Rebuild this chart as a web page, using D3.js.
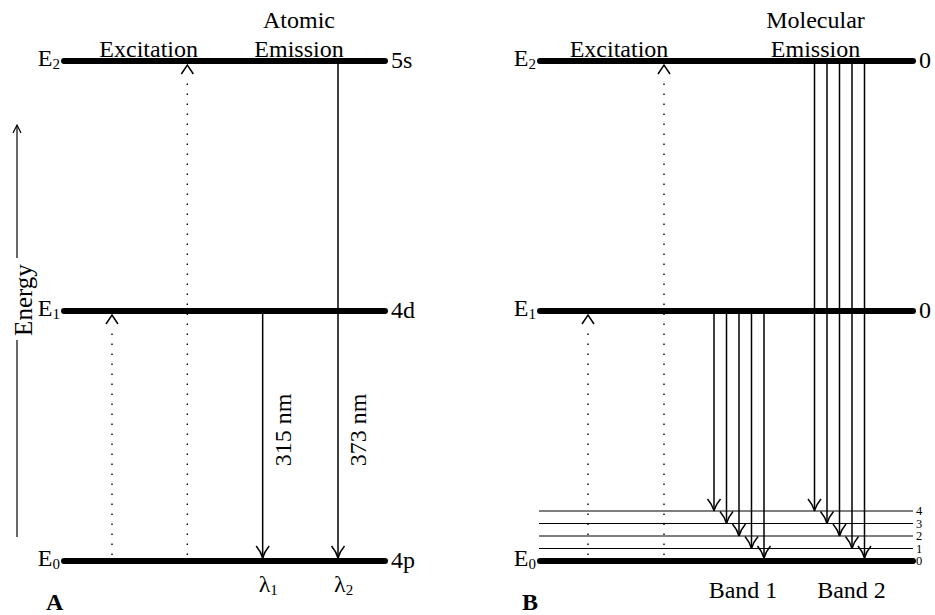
<!DOCTYPE html>
<html>
<head>
<meta charset="utf-8">
<script src="https://cdn.jsdelivr.net/npm/d3@7"></script>
<style>
  body { margin: 0; background: #fff; }
  svg text { font-family: "Liberation Serif", "Times New Roman", serif; fill: #000; }
</style>
</head>
<body>
<script>
// energy levels (index = energy step) and their term labels
const levels = ["E0", "E1", "E2"];
const atomicTerms = ["4p", "4d", "5s"];
const molecularTerms = ["", "0", "0"];
// excitation arrows go from E0 up to these levels
const excitations = [1, 2];
// atomic emission lines
const atomicLines = [
    { from: 1, to: 0, label: "315 nm", lambda: "1" },
    { from: 2, to: 0, label: "373 nm", lambda: "2" }
];
// vibrational sub-levels of the ground state
const vibLevels = [0, 1, 2, 3, 4];
// molecular bands: upper level, and the lower vibrational level of each line (left to right)
const bands = [
    { name: "Band 1", from: 1 },
    { name: "Band 2", from: 2 }
];
const bandTargets = [4, 3, 2, 1, 0];

const width = 935, height = 615;

const svg = d3.select("body").append("svg")
    .attr("width", width)
    .attr("height", height);

// Scales
const y = d3.scaleLinear().domain([0, 2]).range([561, 61]);
const yVib = d3.scaleLinear().domain([0, 4]).range([561, 511]);

// panel A columns: two excitations then two emission lines
const colA = d3.scalePoint()
    .domain(["x1", "x2", "e1", "e2"])
    .range([112, 338]);
// panel B: excitation columns and band centres
const colB = d3.scalePoint()
    .domain(["x1", "x2"])
    .range([588, 664]);
const bandX = d3.scalePoint()
    .domain(bands.map(d => d.name))
    .range([739, 839.5]);
const lineOffset = d3.scaleLinear().domain([0, 4]).range([-25, 25]);

const panels = [
    { key: "A", x0: 64, x1: 385, terms: atomicTerms, title: ["Atomic", "Emission"] },
    { key: "B", x0: 540, x1: 913, terms: molecularTerms, title: ["Molecular", "Emission"] }
];

// arrowhead pointing down, tip at (x, y)
function downHead(x, yy) {
    return `M${x - 6.5},${yy - 12} Q${x - 1.5},${yy - 6} ${x},${yy} Q${x + 1.5},${yy - 6} ${x + 6.5},${yy - 12}`;
}
// chevron pointing up, tip at (x, y)
function upHead(x, yy) {
    return `M${x - 6},${yy + 9} Q${x - 2},${yy + 3} ${x},${yy} Q${x + 2},${yy + 3} ${x + 6},${yy + 9}`;
}

function subLabel(g, x, yy, main, sub, anchor, size) {
    const t = g.append("text")
        .attr("x", x).attr("y", yy)
        .attr("text-anchor", anchor)
        .style("font-size", (size || 24) + "px")
        .text(main);
    t.append("tspan")
        .attr("dy", 3)
        .style("font-size", "15px")
        .text(sub);
    return t;
}

// Energy axis
const axis = svg.append("g").attr("stroke", "#000").attr("stroke-width", 1.2).attr("fill", "none");
axis.append("line").attr("x1", 17).attr("x2", 17).attr("y1", 537).attr("y2", 340);
axis.append("line").attr("x1", 17).attr("x2", 17).attr("y1", 258).attr("y2", 126);
axis.append("path").attr("d", `M13,133 L17,125 L21,133`);
svg.append("text")
    .attr("transform", "translate(32,300) rotate(-90)")
    .attr("text-anchor", "middle")
    .style("font-size", "25px")
    .text("Energy");

panels.forEach(p => {
    const g = svg.append("g");
    const isA = p.key === "A";
    const exX = isA ? (i => colA(i === 1 ? "x1" : "x2")) : (i => colB(i === 1 ? "x1" : "x2"));

    // vibrational sub-levels (panel B)
    if (!isA) {
        g.selectAll("line.vib")
            .data(vibLevels.filter(v => v > 0))
            .join("line")
            .attr("class", "vib")
            .attr("x1", p.x0 - 1).attr("x2", p.x1)
            .attr("y1", d => yVib(d)).attr("y2", d => yVib(d))
            .attr("stroke", "#000").attr("stroke-width", 1.2);
        g.selectAll("text.vib")
            .data(vibLevels)
            .join("text")
            .attr("class", "vib")
            .attr("x", p.x1 + 3)
            .attr("y", d => yVib(d) + 4)
            .style("font-size", "12.5px")
            .text(d => d);
    }

    // excitation (dotted, up)
    excitations.forEach(to => {
        const x = exX(to);
        const tip = y(to) + 4;
        g.append("line")
            .attr("x1", x).attr("x2", x)
            .attr("y1", y(0) - 6).attr("y2", tip + 12)
            .attr("stroke", "#000").attr("stroke-width", 1.4)
            .attr("stroke-dasharray", "1.4,8.6");
        g.append("path").attr("d", upHead(x, tip))
            .attr("fill", "none").attr("stroke", "#000").attr("stroke-width", 1.5);
    });

    // level lines
    g.selectAll("line.level")
        .data(levels)
        .join("line")
        .attr("class", "level")
        .attr("x1", p.x0).attr("x2", p.x1)
        .attr("y1", (d, i) => y(i)).attr("y2", (d, i) => y(i))
        .attr("stroke", "#000").attr("stroke-width", 6)
        .attr("stroke-linecap", "round");

    // level names
    levels.forEach((name, i) => {
        subLabel(g, p.x0 - 4, y(i) + 5, name[0], name[1], "end");
    });
    // terms on the right
    p.terms.forEach((t, i) => {
        if (!t) return;
        g.append("text")
            .attr("x", p.x1 + 6).attr("y", y(i) + 7)
            .style("font-size", "24px")
            .text(t);
    });

    // titles
    g.append("text")
        .attr("x", exX(1) + (exX(2) - exX(1)) / 2 - 1 + (isA ? 0 : -6))
        .attr("y", 57)
        .attr("text-anchor", "middle")
        .style("font-size", "24px")
        .text("Excitation");
    const emX = isA ? colA("e2") - 39 : bandX("Band 2") - 24;
    p.title.forEach((t, i) => {
        g.append("text")
            .attr("x", emX).attr("y", 28 + i * 29)
            .attr("text-anchor", "middle")
            .style("font-size", "24px")
            .text(t);
    });

    // panel letter
    g.append("text")
        .attr("x", p.x0 - 18).attr("y", 610)
        .style("font-size", "24px")
        .style("font-weight", "bold")
        .text(p.key);

    if (isA) {
        atomicLines.forEach(l => {
            const x = colA(l.from === 1 ? "e1" : "e2");
            const tip = y(l.to) - 3;
            g.append("line")
                .attr("x1", x).attr("x2", x)
                .attr("y1", y(l.from) + 3).attr("y2", tip)
                .attr("stroke", "#000").attr("stroke-width", 1.5);
            g.append("path").attr("d", downHead(x, tip))
                .attr("fill", "none").attr("stroke", "#000").attr("stroke-width", 1.5);
            g.append("text")
                .attr("transform", `translate(${x + 28},430) rotate(-90)`)
                .attr("text-anchor", "middle")
                .style("font-size", "24px")
                .text(l.label);
            subLabel(g, x - 4, 592, "λ", l.lambda, "start");
        });
    } else {
        bands.forEach(b => {
            bandTargets.forEach((v, i) => {
                const x = bandX(b.name) + lineOffset(i);
                const tip = v === 0 ? y(0) - 3 : yVib(v);
                g.append("line")
                    .attr("x1", x).attr("x2", x)
                    .attr("y1", y(b.from) + (b.from === 1 ? 3 : 0)).attr("y2", tip)
                    .attr("stroke", "#000").attr("stroke-width", 1.5);
                g.append("path").attr("d", downHead(x, tip))
                    .attr("fill", "none").attr("stroke", "#000").attr("stroke-width", 1.5);
            });
            g.append("text")
                .attr("x", bandX(b.name) + (b.name === "Band 1" ? 4 : 12))
                .attr("y", 598)
                .attr("text-anchor", "middle")
                .style("font-size", "24px")
                .text(b.name);
        });
    }
});
</script>
</body>
</html>
